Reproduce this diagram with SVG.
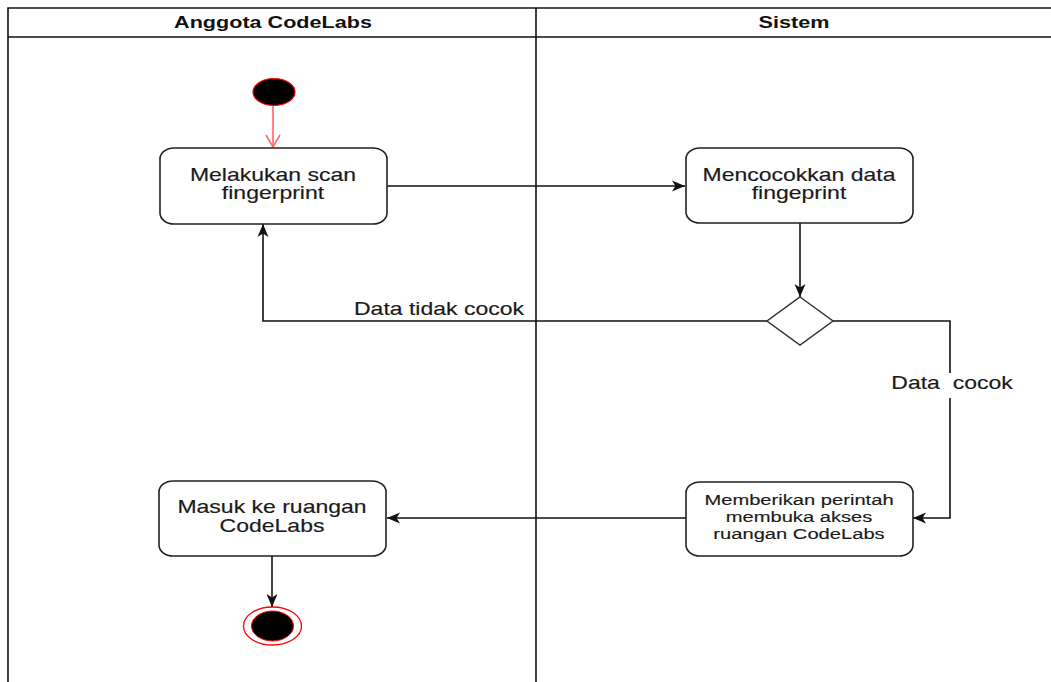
<svg xmlns="http://www.w3.org/2000/svg" width="1051" height="682" viewBox="0 0 1051 682">
  <style>
    .lane { fill: none; stroke: #111; stroke-width: 1.6; }
    .head { font-family: "Liberation Sans", Arial, sans-serif; font-size: 16.6px; font-weight: bold; fill: #111; text-anchor: middle; }
    .box { fill: #fff; stroke: #222; stroke-width: 1.6; }
    .lbl { font-family: "Liberation Sans", Arial, sans-serif; font-size: 17.7px; fill: #1a1a1a; text-anchor: middle; stroke: #1a1a1a; stroke-width: 0.15; }
    .small { font-size: 15.5px; }
    .edge { fill: none; stroke: #111; stroke-width: 1.6; }
    .start { fill: none; stroke: #ff6666; stroke-width: 1.6; }
  </style>
  <defs>
    <marker id="arr" markerUnits="userSpaceOnUse" markerWidth="15" markerHeight="12" refX="13" refY="5.5" orient="auto" viewBox="0 0 15 11">
      <path d="M0,0 L13,5.5 L0,11 L3.5,5.5 Z" fill="#111"/>
    </marker>
    <marker id="open" markerUnits="userSpaceOnUse" markerWidth="16" markerHeight="16" refX="14" refY="8" orient="auto" viewBox="0 0 16 16">
      <path d="M2,1 L14,8 L2,15" fill="none" stroke="#ff6666" stroke-width="1.6"/>
    </marker>
  </defs>

  <rect width="1051" height="682" fill="#fff"/>

  <!-- swimlanes -->
  <g id="lanes">
    <path class="lane" d="M8,682 V8 H1051 M8,37 H1051 M536,8 V682"/>
    <text class="head" transform="translate(273,28) scale(1.3,1)">Anggota CodeLabs</text>
    <text class="head" transform="translate(794,28) scale(1.3,1)">Sistem</text>
  </g>

  <!-- connectors -->
  <g id="connectors">
    <line class="start" x1="273" y1="106" x2="273" y2="147" marker-end="url(#open)"/>
    <line class="edge" x1="387" y1="186" x2="685" y2="186" marker-end="url(#arr)"/>
    <line class="edge" x1="800" y1="223" x2="800" y2="297" marker-end="url(#arr)"/>
    <polyline class="edge" points="767,321 263,321 263,224" marker-end="url(#arr)"/>
    <polyline class="edge" points="832,321 950,321 950,518 913,518" marker-end="url(#arr)"/>
    <line class="edge" x1="686" y1="518" x2="387" y2="518" marker-end="url(#arr)"/>
    <line class="edge" x1="272" y1="556" x2="272" y2="607" marker-end="url(#arr)"/>
    <text class="lbl" style="text-anchor:end" transform="translate(524,315) scale(1.3,1)">Data tidak cocok</text>
    <rect x="888" y="373" width="128" height="25" fill="#fff"/>
    <text class="lbl" transform="translate(952,389) scale(1.3,1)" xml:space="preserve">Data  cocok</text>
  </g>

  <!-- initial node -->
  <g id="start">
    <ellipse cx="274" cy="92" rx="21" ry="13.5" fill="#000" stroke="#ff0000" stroke-width="1.2"/>
  </g>

  <g id="scan">
    <rect class="box" x="160" y="148" width="227" height="76" rx="14" ry="11"/>
    <text class="lbl" transform="translate(273,181) scale(1.3,1)">Melakukan scan</text>
    <text class="lbl" transform="translate(273,199) scale(1.3,1)">fingerprint</text>
  </g>

  <g id="cocokkan">
    <rect class="box" x="686" y="148" width="227" height="75" rx="14" ry="11"/>
    <text class="lbl" transform="translate(799,181) scale(1.3,1)">Mencocokkan data</text>
    <text class="lbl" transform="translate(799,199) scale(1.3,1)">fingeprint</text>
  </g>

  <g id="decision">
    <polygon points="800,297 833,321 800,345 767,321" fill="#fff" stroke="#333" stroke-width="1.5"/>
  </g>

  <g id="akses">
    <rect class="box" x="686" y="482" width="227" height="74" rx="14" ry="11"/>
    <text class="lbl small" transform="translate(799,505) scale(1.3,1)">Memberikan perintah</text>
    <text class="lbl small" transform="translate(799,522) scale(1.3,1)">membuka akses</text>
    <text class="lbl small" transform="translate(799,539) scale(1.3,1)">ruangan CodeLabs</text>
  </g>

  <g id="masuk">
    <rect class="box" x="159" y="481" width="227" height="75" rx="14" ry="11"/>
    <text class="lbl" transform="translate(272,513) scale(1.3,1)">Masuk ke ruangan</text>
    <text class="lbl" transform="translate(272,532) scale(1.3,1)">CodeLabs</text>
  </g>

  <!-- final node -->
  <g id="end">
    <ellipse cx="272.5" cy="626" rx="29" ry="19" fill="#fff" stroke="#ff0000" stroke-width="1.3"/>
    <ellipse cx="272.5" cy="626" rx="21" ry="15" fill="#000" stroke="#ff0000" stroke-width="1"/>
  </g>
</svg>
